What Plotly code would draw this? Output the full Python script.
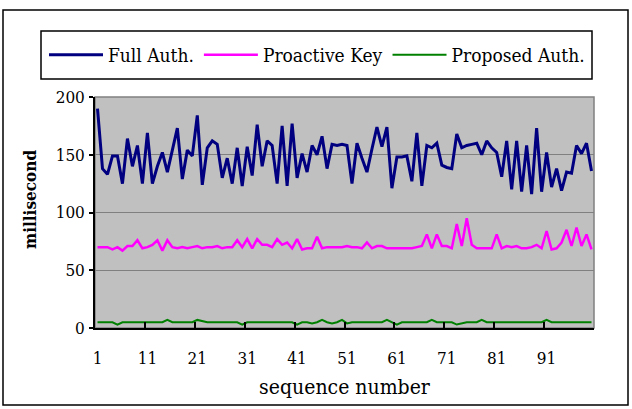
import plotly.graph_objects as go

seq = list(range(1, 101))

full_auth = [190, 138, 133, 149, 149, 125, 164, 140, 158, 125,
             169, 125, 140, 152, 135, 153, 173, 129, 154, 149,
             184, 124, 156, 162, 159, 130, 147, 125, 156, 123,
             157, 132, 176, 140, 162, 158, 125, 175, 123, 177,
             130, 151, 135, 158, 150, 166, 138, 159, 158, 159,
             158, 125, 160, 147, 135, 155, 174, 157, 174, 121,
             148, 148, 149, 127, 169, 123, 158, 156, 160, 141,
             139, 138, 168, 156, 158, 159, 160, 150, 162, 156,
             152, 131, 162, 120, 162, 118, 158, 116, 173, 118,
             152, 122, 138, 119, 135, 134, 158, 151, 160, 136]

proactive_key = [70, 70, 70, 68, 70, 67, 71, 71, 76, 69,
                 70, 72, 76, 67, 76, 70, 69, 70, 69, 70,
                 71, 69, 70, 70, 71, 69, 70, 70, 76, 70,
                 77, 69, 77, 72, 72, 70, 77, 72, 74, 69,
                 77, 68, 69, 69, 79, 69, 70, 70, 70, 70,
                 71, 70, 70, 69, 74, 69, 71, 71, 69, 69,
                 69, 69, 69, 69, 70, 71, 81, 69, 81, 71,
                 71, 69, 90, 71, 95, 72, 69, 69, 69, 69,
                 81, 69, 71, 70, 71, 69, 69, 70, 72, 69,
                 84, 68, 69, 74, 85, 71, 87, 71, 81, 68]

proposed_auth = [5, 5, 5, 5, 3, 5, 5, 5, 5, 5,
                 5, 5, 5, 5, 7, 5, 5, 5, 5, 5,
                 7, 6, 5, 5, 5, 5, 5, 5, 5, 3,
                 5, 5, 5, 5, 5, 5, 5, 5, 5, 5,
                 3, 5, 5, 4, 5, 7, 5, 4, 5, 7,
                 4, 5, 5, 5, 5, 5, 5, 5, 7, 5,
                 3, 5, 5, 5, 5, 5, 5, 7, 5, 5,
                 5, 5, 3, 4, 5, 5, 5, 7, 5, 5,
                 5, 5, 5, 5, 5, 5, 5, 5, 5, 5,
                 7, 5, 5, 5, 5, 5, 5, 5, 5, 5]

series_names = ["Full Auth.", "Proactive Key", "Proposed Auth."]
series_colors = ["#000080", "#FF00FF", "#008000"]
x_tick_vals = [1, 11, 21, 31, 41, 51, 61, 71, 81, 91]
x_tick_text = ["1", "11", "21", "31", "41", "51", "61", "71", "81", "91"]
y_tick_vals = [0, 50, 100, 150, 200]

FONT = "DejaVu Serif Condensed, DejaVu Serif, serif"

fig = go.Figure()
for name, ys, col, w in zip(series_names, [full_auth, proactive_key, proposed_auth],
                            series_colors, [3, 2.5, 2]):
    fig.add_trace(go.Scatter(x=seq, y=ys, mode="lines", name=name,
                             line=dict(color=col, width=w)))

L, R, T, B = 95, 38, 97, 81
W, H = 632, 409
pw, ph = W - L - R, H - T - B

def px_x(p):
    return (p - L) / pw

def px_y(p):
    return (H - B - p) / ph

fig.update_layout(
    width=W, height=H,
    margin=dict(l=L, r=R, t=T, b=B, pad=0),
    paper_bgcolor="white",
    plot_bgcolor="#C0C0C0",
    font=dict(family=FONT, size=16, color="black"),
    showlegend=True,
    legend=dict(orientation="h", x=px_x(44), xanchor="left",
                y=px_y(55), yanchor="middle",
                bgcolor="rgba(0,0,0,0)", borderwidth=0,
                font=dict(family=FONT, size=19, color="black"),
                itemwidth=54),
    xaxis=dict(range=[0.5, 100.5], tickmode="array", tickvals=x_tick_vals,
               ticktext=x_tick_text, ticks="", showgrid=False, zeroline=False,
               showline=True, linecolor="black", linewidth=1.5,
               ticklabelstandoff=14,
               tickfont=dict(family=FONT, size=17),
               minor=dict(tickmode="array",
                          tickvals=[10.5, 20.5, 30.5, 40.5, 50.5, 60.5, 70.5, 80.5, 90.5],
                          ticks="inside", ticklen=6, tickcolor="black", tickwidth=1.5,
                          showgrid=False),
               title=dict(text="sequence number", standoff=12,
                          font=dict(family=FONT, size=21))),
    yaxis=dict(range=[0, 200], tickmode="array", tickvals=y_tick_vals,
               ticks="outside", ticklen=4, tickcolor="black", tickwidth=1.5,
               showgrid=True, gridcolor="#808080", gridwidth=1, zeroline=False,
               showline=True, linecolor="black", linewidth=1.5,
               ticklabelstandoff=1,
               tickfont=dict(family=FONT, size=17)),
    annotations=[
        dict(text="<b>millisecond</b>", xref="paper", yref="paper",
             x=px_x(30), y=px_y(200), xanchor="center", yanchor="middle",
             textangle=-90, showarrow=False,
             font=dict(family=FONT, size=17, color="black")),
    ],
    shapes=[
        dict(type="rect", xref="paper", yref="paper", x0=0, x1=1, y0=0, y1=1,
             line=dict(color="#808080", width=1.5), fillcolor="rgba(0,0,0,0)", layer="below"),
        dict(type="rect", xref="paper", yref="paper",
             x0=px_x(41), x1=px_x(592), y0=px_y(79), y1=px_y(31),
             line=dict(color="black", width=1.5), fillcolor="rgba(0,0,0,0)"),
        dict(type="rect", xref="paper", yref="paper",
             x0=px_x(3), x1=px_x(628), y0=px_y(405), y1=px_y(10),
             line=dict(color="black", width=1.5), fillcolor="rgba(0,0,0,0)"),
    ],
)

fig.write_html("out.html")
